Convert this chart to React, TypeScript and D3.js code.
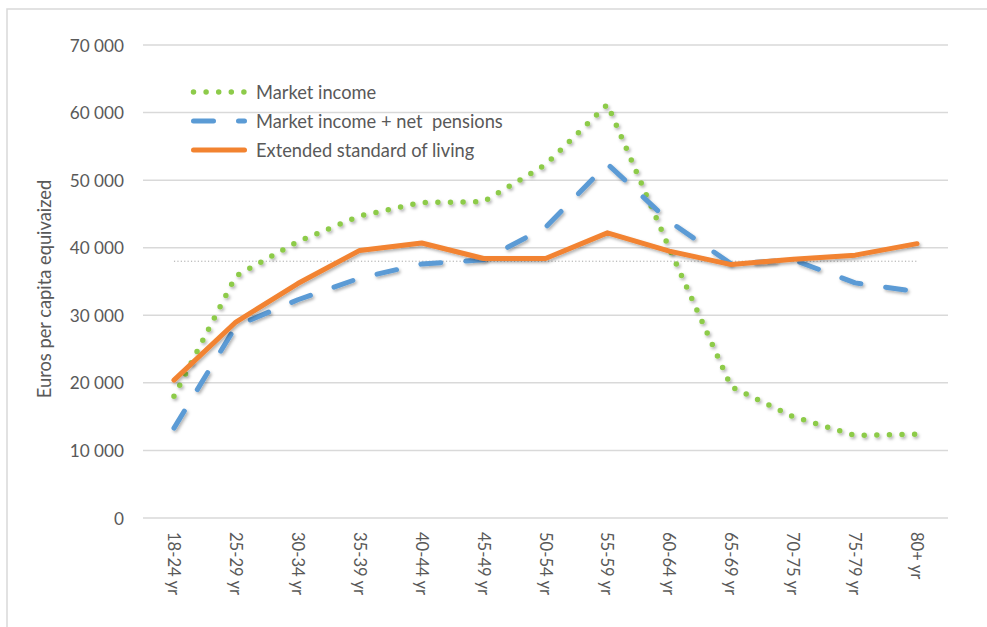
import React from "react";
import * as d3 from "d3";

const categories = ["18-24 yr", "25-29 yr", "30-34 yr", "35-39 yr", "40-44 yr", "45-49 yr", "50-54 yr", "55-59 yr", "60-64 yr", "65-69 yr", "70-75 yr", "75-79 yr", "80+ yr"];
const marketIncome = [18000, 35800, 40900, 44700, 46700, 46800, 52300, 61200, 39900, 19400, 15000, 12200, 12400];
const marketPlusPensions = [13300, 28400, 32300, 35500, 37600, 38200, 43000, 52400, 43900, 37600, 38200, 34800, 33500];
const extendedLiving = [20400, 29000, 34700, 39600, 40700, 38400, 38400, 42200, 39500, 37500, 38300, 38900, 40600];
const referenceLevel = 38000;
const yTicks = [0, 10000, 20000, 30000, 40000, 50000, 60000, 70000];
const seriesNames = ["Market income", "Market income + net  pensions", "Extended standard of living"];

const W = 987;
const H = 627;
const FONT = "Lato, 'Open Sans', sans-serif";
const TXT = "#595959";

export default function App() {
  const x = d3.scaleBand<string>().domain(categories).range([143, 948]).paddingInner(0).paddingOuter(0);
  const cx = (c: string) => (x(c) as number) + x.bandwidth() / 2;
  const y = d3.scaleLinear().domain([0, 70000]).range([518, 45]);
  const fmt = d3.formatLocale({ decimal: ",", thousands: " ", grouping: [3], currency: ["", " €"] }).format(",d");

  const line = d3
    .line<number>()
    .x((_, i) => cx(categories[i]))
    .y((v) => y(v))
    .curve(d3.curveLinear);

  const styles = [
    { color: "#8DCB4A", width: 5.5, dash: "0 12.6", cap: "round" },
    { color: "#5B9BD5", width: 5, dash: "20 25", cap: "round" },
    { color: "#F28330", width: 5, dash: "none", cap: "round" },
  ];
  const data = [marketIncome, marketPlusPensions, extendedLiving];
  const legendY = [92, 121, 150];

  return (
    <svg width={W} height={H} style={{ position: "absolute", left: 0, top: 0, background: "#fff" }} fontFamily={FONT}>
      <defs>
        <filter id="shadow" x="-10%" y="-10%" width="120%" height="130%">
          <feDropShadow dx="1.5" dy="2" stdDeviation="1.5" floodColor="#000" floodOpacity="0.3" />
        </filter>
      </defs>
      <rect x={0} y={0} width={W} height={H} fill="#fff" />
      <path d={`M7,${H} L7,9 L${W},9`} fill="none" stroke="#D9D9D9" strokeWidth={1.5} />

      {yTicks.map((t) => (
        <g key={t}>
          <line x1={143} x2={948} y1={y(t)} y2={y(t)} stroke="#D9D9D9" strokeWidth={1.5} />
          <text x={124} y={y(t)} textAnchor="end" dominantBaseline="central" fontSize={17.2} fill={TXT}>
            {fmt(t)}
          </text>
        </g>
      ))}

      <line
        x1={cx(categories[0])}
        x2={cx(categories[categories.length - 1])}
        y1={y(referenceLevel)}
        y2={y(referenceLevel)}
        stroke="#A6A6A6"
        strokeWidth={1}
        strokeDasharray="1.2 2.2"
      />

      {data.map((vals, i) => (
        <path
          key={i}
          d={line(vals) as string}
          fill="none"
          stroke={styles[i].color}
          strokeWidth={styles[i].width}
          strokeDasharray={styles[i].dash}
          strokeLinecap={styles[i].cap as any}
          strokeLinejoin="round"
          filter="url(#shadow)"
        />
      ))}

      {categories.map((c) => (
        <text
          key={c}
          transform={`translate(${cx(c)},532) rotate(90)`}
          textAnchor="start"
          dominantBaseline="central"
          fontSize={16.6}
          fill={TXT}
        >
          {c}
        </text>
      ))}

      <text
        transform="translate(44,289) rotate(-90)"
        textAnchor="middle"
        dominantBaseline="central"
        fontSize={18.3}
        fill={TXT}
      >
        Euros per capita equivaized
      </text>

      {seriesNames.map((name, i) => (
        <g key={name}>
          <line
            x1={193.5}
            x2={244.5}
            y1={legendY[i]}
            y2={legendY[i]}
            stroke={styles[i].color}
            strokeWidth={styles[i].width}
            strokeDasharray={styles[i].dash}
            strokeLinecap={styles[i].cap as any}
          />
          <text x={256} y={legendY[i]} dominantBaseline="central" fontSize={18.3} fill={TXT} style={{ whiteSpace: "pre" }}>
            {name}
          </text>
        </g>
      ))}
    </svg>
  );
}
